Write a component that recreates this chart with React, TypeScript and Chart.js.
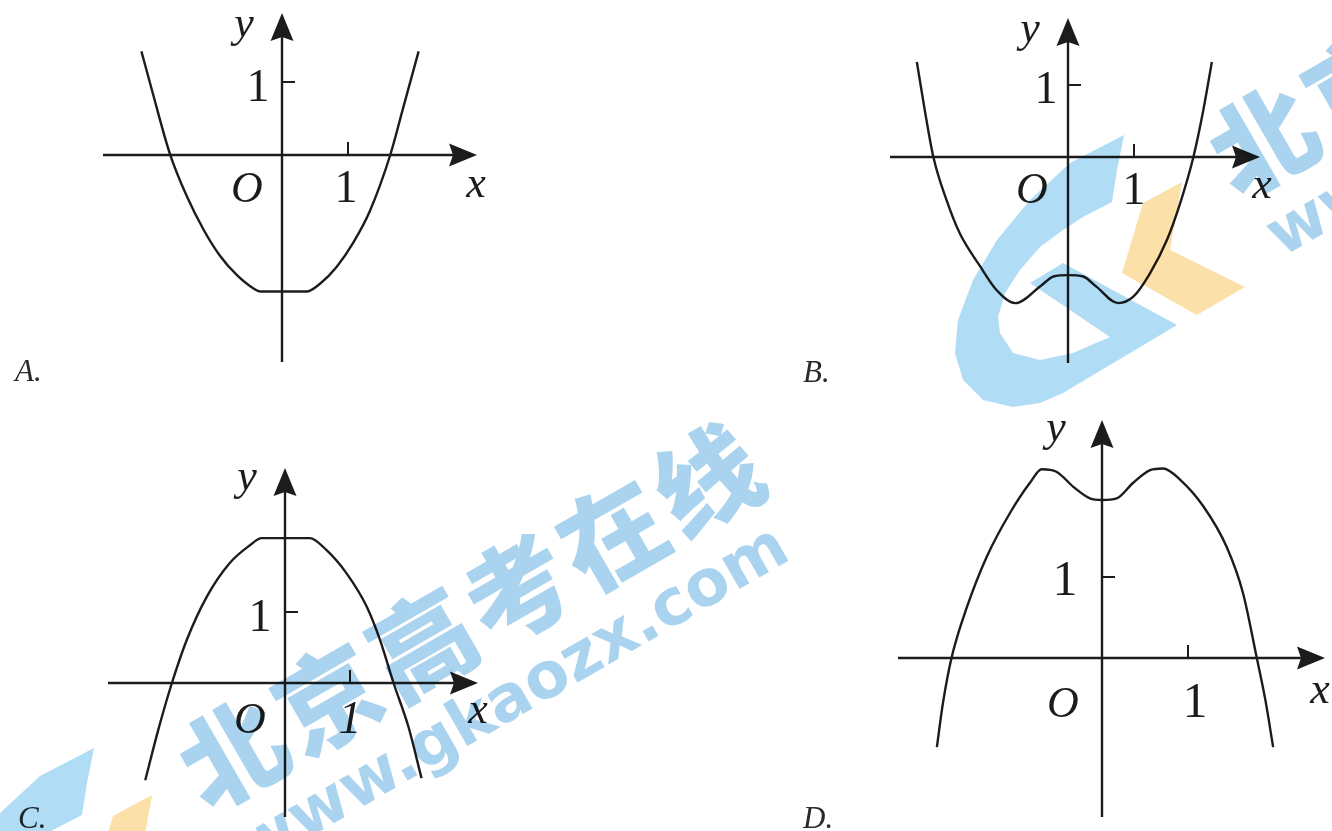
import React, { useEffect, useRef } from "react";
import { Chart, registerables } from "chart.js";

Chart.register(...registerables);

// ---------------- data ----------------
const panelKeys = ["A", "B", "C", "D"];
const panelLetters = ["A.", "B.", "C.", "D."];
const tickValue = 1;
const tickLabel = "1";
const originLabel = "O";
const xAxisName = "x";
const yAxisName = "y";

// curve A: parabola-like with a flat bottom
const curveAx = [-2.13, -1.965, -1.7, -1.44, -1.19, -0.94, -0.69, -0.43, -0.33, 0.37, 0.58, 0.83, 1.08, 1.33, 1.64, 1.84, 2.07];
const curveAy = [1.42, 0.87, 0.02, -0.57, -1.02, -1.38, -1.64, -1.83, -1.87, -1.87, -1.76, -1.53, -1.2, -0.77, 0, 0.66, 1.42];

// curve B: W-shaped
const curveBx = [-2.29, -2.17, -2.04, -1.84, -1.64, -1.33, -1.08, -0.8, -0.4, -0.22, 0, 0.23, 0.43, 0.76, 0.99, 1.24, 1.5, 1.7, 1.9, 2.05, 2.18];
const curveBy = [1.32, 0.65, 0, -0.6, -1.06, -1.52, -1.85, -2.03, -1.78, -1.66, -1.64, -1.66, -1.8, -2.03, -1.94, -1.62, -1.15, -0.64, 0, 0.65, 1.32];

// curve C: downward parabola-like with a flat top
const curveCx = [-2.15, -1.95, -1.74, -1.51, -1.2, -0.85, -0.54, -0.36, 0.38, 0.64, 0.95, 1.26, 1.46, 1.67, 1.9, 2.1];
const curveCy = [-1.37, -0.66, 0, 0.61, 1.22, 1.69, 1.94, 2.04, 2.04, 1.87, 1.54, 1.07, 0.61, 0, -0.62, -1.34];

// curve D: M-shaped
const curveDx = [-1.92, -1.85, -1.75, -1.57, -1.34, -1.07, -0.84, -0.7, -0.53, -0.33, -0.14, 0, 0.17, 0.36, 0.56, 0.71, 0.91, 1.18, 1.45, 1.64, 1.8, 1.9, 1.99];
const curveDy = [-1.1, -0.56, 0, 0.63, 1.25, 1.79, 2.16, 2.33, 2.3, 2.11, 1.97, 1.95, 1.97, 2.16, 2.32, 2.34, 2.2, 1.87, 1.37, 0.8, 0, -0.52, -1.1];

const curvesX = [curveAx, curveBx, curveCx, curveDx];
const curvesY = [curveAy, curveBy, curveCy, curveDy];

// watermark text
const watermarkTitle = "北京高考在线";
const watermarkSite = "www.gkaozx.com";

// ---------------- layout & style ----------------
const W = 1332;
const H = 831;
const INK = "#1c1c1c";

type Layout = {
  ox: number; oy: number; ux: number; uy: number;
  xFrom: number; xTo: number; yFrom: number; yTo: number;
  oDx: number; oBase: number;
  xtDx: number; xtBase: number;
  ytDx: number; ytBase: number;
  xnDx: number; xnBase: number;
  ynDx: number; ynBase: number;
  letterX: number; letterBase: number;
  numFont: number; italicTick?: boolean;
};

const layouts: Layout[] = [
  { ox: 282, oy: 155, ux: 66, uy: 73, xFrom: -2.712, xTo: 2.955, yFrom: -2.836, yTo: 1.945,
    oDx: -35, oBase: 47, xtDx: -2, xtBase: 47, ytDx: -24, ytBase: 19, xnDx: -1, xnBase: 42, ynDx: -38, ynBase: 24,
    letterX: 15, letterBase: 381, numFont: 46 },
  { ox: 1068, oy: 157, ux: 66, uy: 72, xFrom: -2.697, xTo: 2.909, yFrom: -2.861, yTo: 1.931,
    oDx: -36, oBase: 46, xtDx: 0, xtBase: 47, ytDx: -22, ytBase: 18, xnDx: 2, xnBase: 41, ynDx: -38, ynBase: 24,
    letterX: 803, letterBase: 382, numFont: 46 },
  { ox: 285, oy: 683, ux: 65, uy: 71, xFrom: -2.723, xTo: 2.969, yFrom: -1.887, yTo: 3.028,
    oDx: -35, oBase: 50, xtDx: 0, xtBase: 50, ytDx: -25, ytBase: 19, xnDx: 0, xnBase: 40, ynDx: -38, ynBase: 22,
    letterX: 18, letterBase: 828, numFont: 46, italicTick: true },
  { ox: 1102, oy: 658, ux: 86, uy: 81, xFrom: -2.372, xTo: 2.593, yFrom: -1.963, yTo: 2.938,
    oDx: -39, oBase: 59, xtDx: 7, xtBase: 59, ytDx: -37, ytBase: 18, xnDx: -5, xnBase: 45, ynDx: -46, ynBase: 21,
    letterX: 803, letterBase: 828, numFont: 50 },
];

// watermark tiles (anchor = tip of the logo arm)
const tileAnchors: [number, number][] = [[1124, 135], [94, 748]];
const logoG: [number, number][] = [
  [0, 0], [-54, 28], [-94, 65], [-127, 105], [-151, 145], [-166, 185], [-169, 218], [-161, 245], [-141, 265],
  [-111, 272], [-84, 268], [-61, 258], [53, 190], [-61, 128], [-94, 148], [-14, 202], [-51, 218], [-84, 225],
  [-111, 218], [-124, 198], [-126, 182], [-119, 158], [-104, 135], [-84, 112], [-61, 95], [-41, 82], [-12, 67], [-7, 35],
];
const logoChevron: [number, number][] = [[58, 47], [19, 68], [-2, 138], [73, 180], [121, 152], [46, 115]];

// ---------------- plugins ----------------
const bgPlugin = {
  id: "bg",
  beforeDraw(chart: any) {
    const ctx = chart.ctx;
    ctx.save();
    ctx.fillStyle = "#ffffff";
    ctx.fillRect(0, 0, chart.width, chart.height);
    ctx.restore();
  },
};

const AR_LEN = 28;
const AR_W = 11.5;

const axesPlugin = {
  id: "mathAxes",
  beforeDatasetsDraw(chart: any) {
    const ctx: CanvasRenderingContext2D = chart.ctx;
    ctx.save();
    panelKeys.forEach((k, i) => {
      const L = layouts[i];
      const sx = chart.scales["x" + k];
      const sy = chart.scales["y" + k];
      const X = (v: number) => sx.getPixelForValue(v);
      const Y = (v: number) => sy.getPixelForValue(v);
      const ox = X(0);
      const oy = Y(0);
      ctx.strokeStyle = INK;
      ctx.fillStyle = INK;
      ctx.lineWidth = 2.4;
      ctx.lineCap = "butt";
      const xs = X(L.xFrom);
      const xe = X(L.xTo);
      ctx.beginPath();
      ctx.moveTo(xs, oy);
      ctx.lineTo(xe - AR_LEN + 4, oy);
      ctx.stroke();
      ctx.beginPath();
      ctx.moveTo(xe, oy);
      ctx.lineTo(xe - AR_LEN, oy - AR_W);
      ctx.lineTo(xe - AR_LEN + 4, oy);
      ctx.lineTo(xe - AR_LEN, oy + AR_W);
      ctx.closePath();
      ctx.fill();
      const ys = Y(L.yFrom);
      const ye = Y(L.yTo);
      ctx.beginPath();
      ctx.moveTo(ox, ys);
      ctx.lineTo(ox, ye + AR_LEN - 4);
      ctx.stroke();
      ctx.beginPath();
      ctx.moveTo(ox, ye);
      ctx.lineTo(ox - AR_W, ye + AR_LEN);
      ctx.lineTo(ox, ye + AR_LEN - 4);
      ctx.lineTo(ox + AR_W, ye + AR_LEN);
      ctx.closePath();
      ctx.fill();
      ctx.lineWidth = 2;
      const tx = X(tickValue);
      const ty = Y(tickValue);
      ctx.beginPath();
      ctx.moveTo(tx, oy);
      ctx.lineTo(tx, oy - 13);
      ctx.moveTo(ox, ty);
      ctx.lineTo(ox + 13, ty);
      ctx.stroke();
      ctx.textAlign = "center";
      ctx.textBaseline = "alphabetic";
      ctx.font = `${L.numFont}px "Liberation Serif"`;
      ctx.fillText(tickLabel, ox + L.ytDx, ty + L.ytBase);
      ctx.font = `${L.italicTick ? "italic " : ""}${L.numFont}px "Liberation Serif"`;
      ctx.fillText(tickLabel, tx + L.xtDx, oy + L.xtBase);
      ctx.font = `italic 44px "Liberation Serif"`;
      ctx.fillText(originLabel, ox + L.oDx, oy + L.oBase);
      ctx.fillText(xAxisName, xe + L.xnDx, oy + L.xnBase);
      ctx.fillText(yAxisName, ox + L.ynDx, ye + L.ynBase);
      ctx.textAlign = "left";
      ctx.fillStyle = "#2a2a2a";
      ctx.font = `italic 31px "Liberation Serif"`;
      ctx.fillText(panelLetters[i], L.letterX, L.letterBase);
    });
    ctx.restore();
  },
};

const watermarkPlugin = {
  id: "watermark",
  afterDraw(chart: any) {
    const ctx: CanvasRenderingContext2D = chart.ctx;
    ctx.save();
    ctx.globalCompositeOperation = "multiply";
    const poly = (pts: [number, number][], ax: number, ay: number, color: string) => {
      ctx.beginPath();
      pts.forEach(([dx, dy], j) => (j === 0 ? ctx.moveTo(ax + dx, ay + dy) : ctx.lineTo(ax + dx, ay + dy)));
      ctx.closePath();
      ctx.fillStyle = color;
      ctx.fill();
    };
    tileAnchors.forEach(([ax, ay]) => {
      poly(logoG, ax, ay, "rgb(176,221,245)");
      poly(logoChevron, ax, ay, "rgb(252,224,170)");
      ctx.fillStyle = "rgb(170,211,239)";
      ctx.textAlign = "center";
      ctx.textBaseline = "middle";
      ctx.font = `900 104px "Noto Sans CJK SC"`;
      Array.from(watermarkTitle).forEach((ch, j) => {
        ctx.save();
        ctx.translate(ax + 139 + j * 94.8, ay + 5 - j * 54.6);
        ctx.rotate(-Math.PI / 6);
        ctx.fillText(ch, 0, 0);
        ctx.restore();
      });
      ctx.font = `bold 64px "DejaVu Sans"`;
      ctx.save();
      ctx.translate(ax + 420, ay - 48);
      ctx.rotate(-Math.PI / 6);
      ctx.fillText(watermarkSite, 0, 0);
      ctx.restore();
    });
    ctx.restore();
  },
};

// ---------------- component ----------------
export default function App() {
  const ref = useRef<HTMLCanvasElement>(null);

  useEffect(() => {
    const canvas = ref.current;
    if (!canvas) return;
    const scales: any = {};
    panelKeys.forEach((k, i) => {
      const L = layouts[i];
      scales["x" + k] = {
        type: "linear", axis: "x", display: false, bounds: "data",
        min: -L.ox / L.ux, max: (W - L.ox) / L.ux,
      };
      scales["y" + k] = {
        type: "linear", axis: "y", display: false, bounds: "data",
        min: -(H - L.oy) / L.uy, max: L.oy / L.uy,
      };
    });
    const datasets = panelKeys.map((k, i) => ({
      label: panelLetters[i],
      data: curvesX[i].map((x, j) => ({ x, y: curvesY[i][j] })),
      xAxisID: "x" + k,
      yAxisID: "y" + k,
      showLine: true,
      borderColor: INK,
      borderWidth: 2.4,
      pointRadius: 0,
      fill: false,
      cubicInterpolationMode: "monotone" as const,
    }));
    const chart = new Chart(canvas, {
      type: "scatter",
      data: { datasets },
      options: {
        responsive: false,
        maintainAspectRatio: false,
        animation: false,
        devicePixelRatio: 1,
        events: [],
        layout: { padding: 0 },
        plugins: { legend: { display: false }, tooltip: { enabled: false }, title: { display: false } },
        scales,
      },
      plugins: [bgPlugin, axesPlugin, watermarkPlugin],
    });
    return () => chart.destroy();
  }, []);

  return (
    <canvas
      ref={ref}
      width={W}
      height={H}
      style={{ position: "fixed", left: 0, top: 0, display: "block" }}
    />
  );
}
